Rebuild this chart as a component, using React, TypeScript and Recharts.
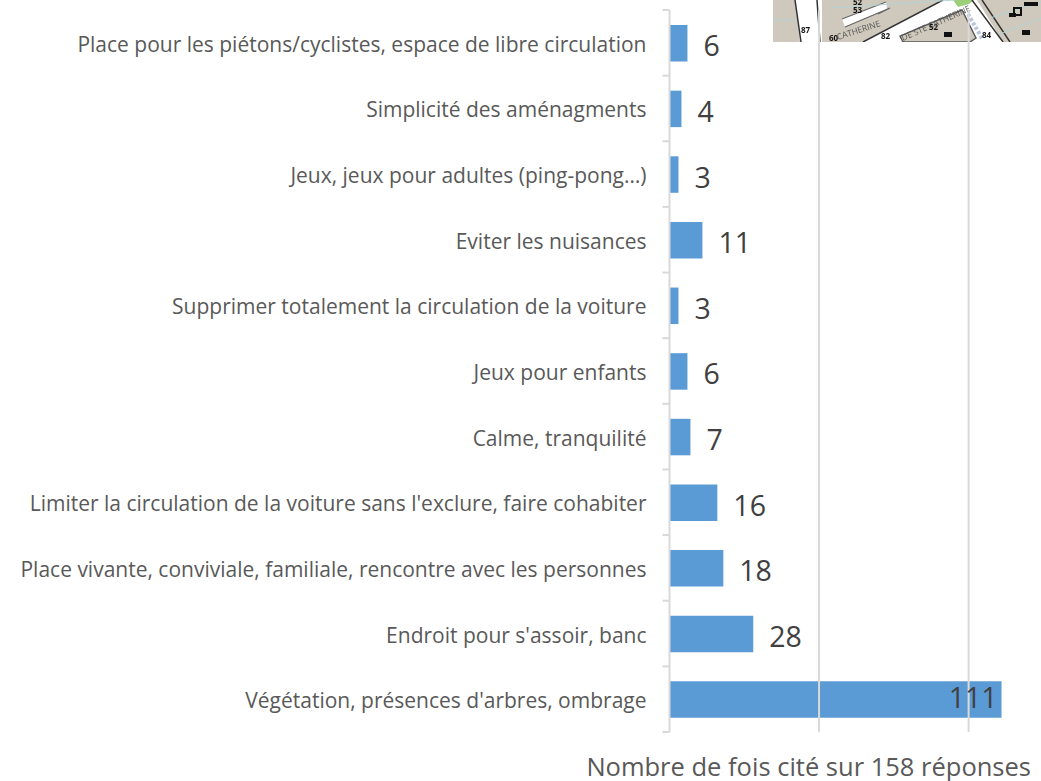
import React from 'react'
import { BarChart, Bar, XAxis, YAxis, ReferenceLine, LabelList } from 'recharts'

const categories = [
  'Place pour les piétons/cyclistes, espace de libre circulation',
  'Simplicité des aménagments',
  'Jeux, jeux pour adultes (ping-pong…)',
  'Eviter les nuisances ',
  'Supprimer totalement la circulation de la voiture',
  'Jeux pour enfants',
  'Calme, tranquilité',
  "Limiter la circulation de la voiture sans l'exclure, faire cohabiter",
  'Place vivante, conviviale, familiale, rencontre avec les personnes',
  "Endroit pour s'assoir, banc",
  "Végétation, présences d'arbres, ombrage",
]
const counts = [6, 4, 3, 11, 3, 6, 7, 16, 18, 28, 111]
const gridValues = [50, 100]

const data = categories.map((name, i) => ({ name, count: counts[i] }))

const FONT = '"Open Sans", sans-serif'
const AXIS_COLOR = '#d9d9d9'
const PLOT_HEIGHT = 722

const ValueLabel = (props: any) => {
  const { x, y, width, height, value } = props
  const inside = value > 100
  return (
    <text
      x={inside ? x + width - 4 : x + width + 16}
      y={y + height / 2 + (inside ? -3 : 2)}
      dominantBaseline="central"
      textAnchor={inside ? 'end' : 'start'}
      fontSize={28.5}
      fontFamily={FONT}
      fill="#404040"
    >
      {value}
    </text>
  )
}

// tick marks sit between the categories, so they are drawn with the label
const CategoryTick = (props: any) => {
  const { x, y, payload, index } = props
  const half = PLOT_HEIGHT / categories.length / 2
  return (
    <g>
      <line x1={x + 16} x2={x + 23} y1={y - half} y2={y - half} stroke={AXIS_COLOR} strokeWidth={2} />
      {index === categories.length - 1 && (
        <line x1={x + 16} x2={x + 23} y1={y + half} y2={y + half} stroke={AXIS_COLOR} strokeWidth={2} />
      )}
      <text x={x} y={y + 1} textAnchor="end" dominantBaseline="central" fontSize={21} fontFamily={FONT} fill="#595959">
        {payload.value}
      </text>
    </g>
  )
}

// the piece of street map that overlaps the top right corner of the chart
const MapScrap = () => (
  <svg width={1041} height={781} style={{ position: 'absolute', left: 0, top: 0, filter: 'blur(0.6px)' }}>
    <defs>
      <clipPath id="mapClip">
        <rect x={773} y={0} width={268} height={42} />
      </clipPath>
    </defs>
    <g clipPath="url(#mapClip)">
      <path d="M773 0H795L800 42H773Z" fill="#cfc8bc" />
      <path d="M822 0H943L863 42H822Z" fill="#cfc8bc" />
      <path d="M842 19L886 2L887 9L845 27Z" fill="#fff" />
      <path d="M842 19L886 2M845 27L890 8L878 14" stroke="#666" strokeWidth={1.2} fill="none" />
      <path d="M903 42L900 36L962 10L976 38L970 42Z" fill="#cfc8bc" stroke="#555" strokeWidth={1.4} />
      <path d="M977 0H1041V42H1003Z" fill="#cfc8bc" />
      <path d="M953 0H974L969 4L958 7Z" fill="#9ccf7c" />
      <path d="M795 0L801 42M817 0L820 42M863 42L943 0M972 0L1003 42M982 0L1010 42" stroke="#333" strokeWidth={1.5} fill="none" />
      <path d="M773 20H796M830 8L955 0M990 18L1041 2M1000 34L1041 18" stroke="#b5d3d6" strokeWidth={1} fill="none" />
      <path d="M968 14L983 40" stroke="#b9c4e0" strokeWidth={4} strokeDasharray="3 2" fill="none" />
      <g fontFamily={FONT} fontWeight={700} fontSize={8} fill="#111">
        <text x={801} y={33}>87</text>
        <text x={829} y={41}>60</text>
        <text x={881} y={39}>82</text>
        <text x={929} y={30}>52</text>
        <text x={982} y={38}>84</text>
        <text x={853} y={5}>52</text>
        <text x={853} y={13}>53</text>
      </g>
      <g fontFamily={FONT} fontSize={8.5} fill="#555">
        <text x={838} y={40} transform="rotate(-18 838 40)">CATHERINE</text>
        <text x={903} y={41} transform="rotate(-24 903 41)">DE STE CATHERINE</text>
      </g>
      <rect x={1024} y={2} width={14} height={4} fill="#111" />
      <rect x={1022} y={30} width={8} height={5} fill="#111" />
      <rect x={1014} y={8} width={7} height={7} fill="none" stroke="#111" strokeWidth={2} />
      <rect x={1009} y={13} width={7} height={4} fill="#111" />
      <rect x={944} y={32} width={8} height={5} fill="#111" />
    </g>
  </svg>
)

const App = () => {
  return (
    <div style={{ position: 'absolute', left: 0, top: 0, width: 1041, height: 781, overflow: 'hidden', background: '#fff' }}>
      <MapScrap />
      <div style={{ position: 'absolute', left: 0, top: 0 }}>
        <BarChart
          layout="vertical"
          width={1041}
          height={781}
          data={data}
          margin={{ top: 10, right: 0, bottom: 49, left: 0 }}
          barSize={36.5}
        >
          <XAxis type="number" domain={[0, 124.2]} axisLine={false} tickLine={false} tick={false} height={0} />
          <YAxis
            type="category"
            dataKey="name"
            width={669.5}
            interval={0}
            axisLine={{ stroke: AXIS_COLOR, strokeWidth: 2 }}
            tickLine={false}
            tickSize={7}
            tickMargin={16}
            tick={CategoryTick}
          />
          {gridValues.map((v) => (
            <ReferenceLine key={v} x={v} stroke={AXIS_COLOR} strokeWidth={2} />
          ))}
          <Bar dataKey="count" fill="#5b9bd5" isAnimationActive={false}>
            <LabelList dataKey="count" content={ValueLabel} />
          </Bar>
        </BarChart>
      </div>
      <div style={{ position: 'absolute', right: 10, top: 749, fontSize: 25.5, fontFamily: FONT, color: '#595959', whiteSpace: 'nowrap' }}>
        Nombre de fois cité sur 158 réponses
      </div>
    </div>
  )
}

export default App
